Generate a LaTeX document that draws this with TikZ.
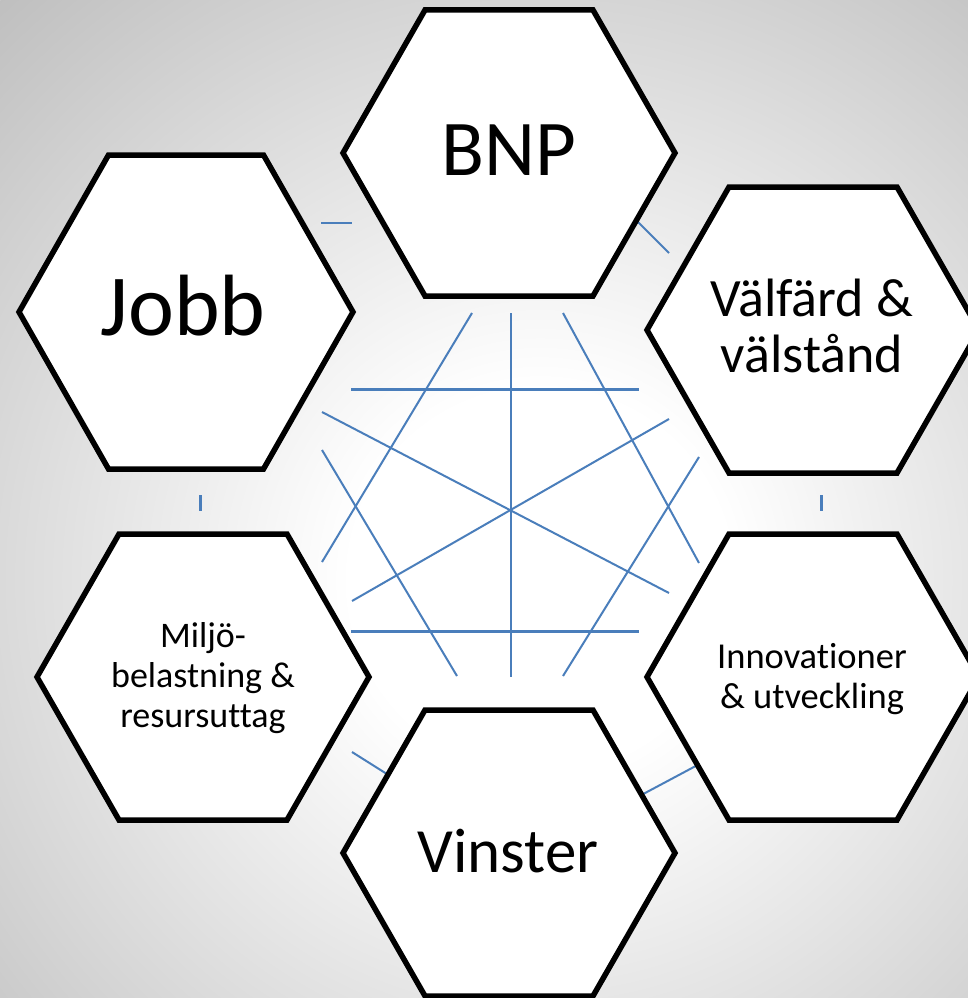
\documentclass[tikz,border=0pt]{standalone}
\usepackage{fontspec}
\setmainfont{Carlito}[Ligatures=NoCommon]
\definecolor{conn}{RGB}{74,126,187}
\pgfdeclareradialshading{bgshade}{\pgfpoint{0bp}{0bp}}{color(0bp)=(white); color(6bp)=(white); color(25bp)=(black!25); color(50bp)=(black!25)}
\newcommand\hexshape[5]{%
  \draw[hexstyle] ({#1-#3},#2) -- ({#1-#4},{#2-#5}) -- ({#1+#4},{#2-#5}) -- ({#1+#3},#2) -- ({#1+#4},{#2+#5}) -- ({#1-#4},{#2+#5}) -- cycle;}
\begin{document}
\begin{tikzpicture}[x=1pt,y=-1pt,
  hexstyle/.style={draw=black,line width=5.5pt,fill=white,line join=miter},
  thinconn/.style={draw=conn,line width=2pt},
  thickconn/.style={draw=conn,line width=3pt},
  label/.style={inner sep=0pt,align=center,text=black}]
\useasboundingbox (0,0) rectangle (968,998);
\begin{scope}
  \clip (0,0) rectangle (968,998);
  \shade[shading=bgshade] (540,580) circle (792);
\end{scope}
% connector end points
\coordinate (h1a) at (351,389); \coordinate (h1b) at (639,389);
\coordinate (h2a) at (351,631); \coordinate (h2b) at (639,631);
\coordinate (va) at (511,313);  \coordinate (vb) at (511,677);
\coordinate (d1a) at (472,313); \coordinate (d1b) at (322,562);
\coordinate (d2a) at (563,313); \coordinate (d2b) at (699,563);
\coordinate (d3a) at (322,412); \coordinate (d3b) at (669,593);
\coordinate (d4a) at (669,419); \coordinate (d4b) at (352,601);
\coordinate (d5a) at (322,450); \coordinate (d5b) at (457,676);
\coordinate (d6a) at (699,457); \coordinate (d6b) at (563,676);
\coordinate (s1a) at (321,223); \coordinate (s1b) at (352,223);
\coordinate (s2a) at (630,214); \coordinate (s2b) at (669,253);
\coordinate (s3a) at (821,495); \coordinate (s3b) at (821,511);
\coordinate (s4a) at (200,495); \coordinate (s4b) at (200,511);
\coordinate (s5a) at (352,752); \coordinate (s5b) at (398,781);
\coordinate (s6a) at (632,800); \coordinate (s6b) at (707,760);
% connectors
\draw[thickconn] (h1a) -- (h1b);
\draw[thickconn] (h2a) -- (h2b);
\draw[thinconn] (va) -- (vb);
\draw[thinconn] (d1a) -- (d1b);
\draw[thinconn] (d2a) -- (d2b);
\draw[thinconn] (d3a) -- (d3b);
\draw[thinconn] (d4a) -- (d4b);
\draw[thinconn] (d5a) -- (d5b);
\draw[thinconn] (d6a) -- (d6b);
\draw[thinconn] (s1a) -- (s1b);
\draw[thinconn] (s2a) -- (s2b);
\draw[thickconn] (s3a) -- (s3b);
\draw[thickconn] (s4a) -- (s4b);
\draw[thinconn] (s5a) -- (s5b);
\draw[thinconn] (s6a) -- (s6b);
% hexagons
\hexshape{509}{153}{166}{84}{143}
\hexshape{186}{312}{167}{77.5}{157}
\hexshape{813}{330}{166}{84}{143}
\hexshape{203}{677}{166}{84}{143}
\hexshape{813}{677}{166}{84}{143}
\hexshape{509}{853}{166}{84}{143}
% labels
\node[label,anchor=base,font=\fontsize{79}{79}\selectfont] (bnp) at (509,175) {BNP};
\node[label,anchor=base,font=\fontsize{87}{87}\selectfont] (jobb) at (183,335) {Jobb};
\node[label,font=\fontsize{54}{56}\selectfont] (valfard) at (812,326) {Välfärd \&\\välstånd};
\node[label,font=\fontsize{36}{40}\selectfont] (miljo) at (203,678) {Miljö-\\belastning \&\\resursuttag};
\node[label,font=\fontsize{36.5}{40}\selectfont] (innov) at (812,679) {Innovationer\\\& utveckling};
\node[label,anchor=base,font=\fontsize{63}{63}\selectfont] (vinster) at (508,872) {Vinster};
\end{tikzpicture}
\end{document}
